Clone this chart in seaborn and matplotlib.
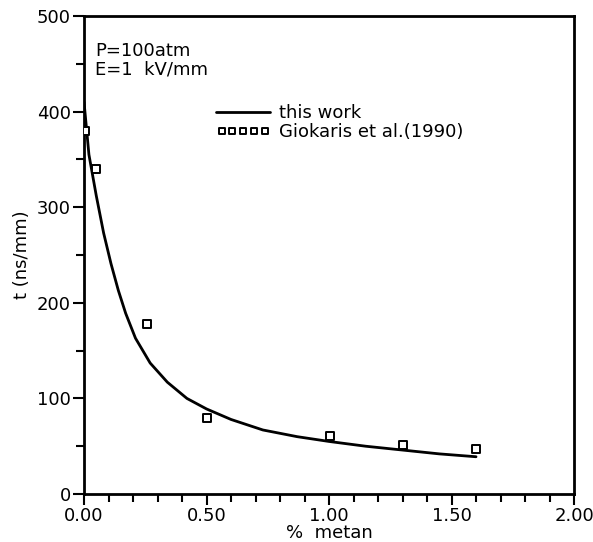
import matplotlib
matplotlib.use("Agg")
import matplotlib.pyplot as plt
from matplotlib.ticker import MultipleLocator, FormatStrFormatter
import seaborn as sns
import pandas as pd

sns.set_style("ticks")
plt.rcParams['font.family'] = ['DejaVu Sans']
plt.rcParams.update({'text.color': 'black', 'axes.labelcolor': 'black',
                     'xtick.color': 'black', 'ytick.color': 'black',
                     'axes.edgecolor': 'black'})

# curve ("this work")
metan_fit = [0.0, 0.02, 0.05, 0.08, 0.11, 0.14, 0.17, 0.21, 0.27, 0.34, 0.42,
             0.50, 0.60, 0.73, 0.87, 1.00, 1.15, 1.30, 1.45, 1.60]
t_fit = [410, 355, 312, 273, 241, 213, 189, 163, 137, 117, 100,
         89, 78, 67, 60, 55, 50, 46, 42, 39]

# measured points (Giokaris et al. 1990)
metan_exp = [0.005, 0.05, 0.255, 0.50, 1.005, 1.30, 1.60]
t_exp = [380, 340, 178, 80, 61, 51, 47]

df_fit = pd.DataFrame({'metan': metan_fit, 't': t_fit})
df_exp = pd.DataFrame({'metan': metan_exp, 't': t_exp})

fig = plt.figure(figsize=(5.93, 5.42), dpi=100)
ax = fig.add_axes([0.1417, 0.0885, 0.8263, 0.882])

sns.lineplot(data=df_fit, x='metan', y='t', color='black', lw=2,
             label='this work', ax=ax)
sns.scatterplot(data=df_exp, x='metan', y='t', marker='s', s=30,
                facecolor='white', edgecolor='black', linewidth=1.4,
                label='Giokaris et al.(1990)', ax=ax, zorder=3)

ax.set_xlim(0, 2.0)
ax.set_ylim(0, 500)
ax.xaxis.set_major_locator(MultipleLocator(0.5))
ax.xaxis.set_minor_locator(MultipleLocator(0.1))
ax.yaxis.set_major_locator(MultipleLocator(100))
ax.yaxis.set_minor_locator(MultipleLocator(50))
ax.xaxis.set_major_formatter(FormatStrFormatter('%.2f'))
ax.tick_params(which='both', direction='out', width=1.5, labelsize=13,
               top=False, right=False, pad=1.5)
ax.tick_params(which='major', length=8)
ax.tick_params(which='minor', length=6)
for sp in ax.spines.values():
    sp.set_linewidth(2)
    sp.set_visible(True)

ax.set_xlabel('%  metan', fontsize=13, labelpad=-1)
ax.set_ylabel('t (ns/mm)', fontsize=13, labelpad=4)

ax.text(0.022, 0.945, 'P=100atm\nE=1  kV/mm', transform=ax.transAxes,
        fontsize=13, va='top', ha='left', linespacing=1.0)

ax.legend(loc='upper left', bbox_to_anchor=(0.255, 0.83), frameon=False,
          fontsize=13, handlelength=3.0, handletextpad=0.5,
          labelspacing=0.05, scatterpoints=5, scatteryoffsets=[0.5],
          markerscale=0.8, borderaxespad=0)

fig.savefig('out.png', dpi=100)
